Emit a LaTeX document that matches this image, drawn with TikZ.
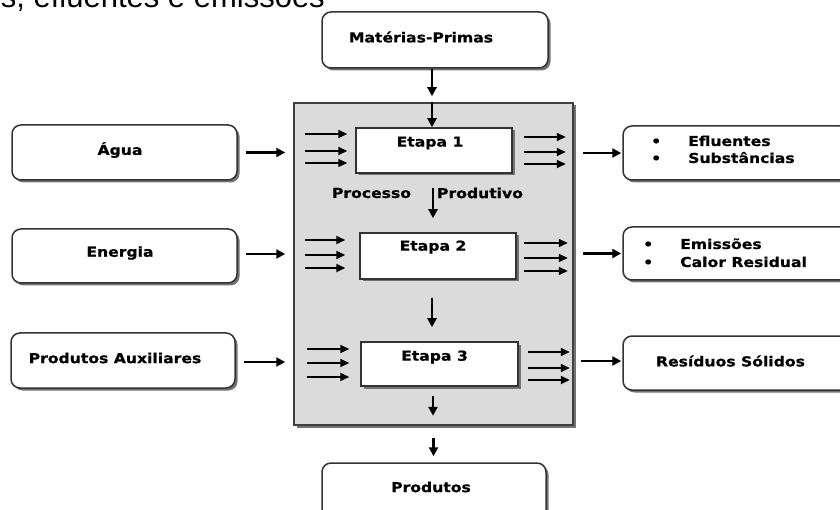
\documentclass[tikz,border=0pt]{standalone}
\usepackage{fontspec}
\setmainfont{DejaVu Sans}[FakeStretch=1.14,BoldFeatures={FakeBold=0.7}]
\newfontfamily\capfont{Liberation Sans}
\usetikzlibrary{shadows,arrows.meta}
\begin{document}
\begin{tikzpicture}[x=1pt,y=-1pt,
  shad/.style={drop shadow={shadow xshift=2.5pt,shadow yshift=-2.5pt,fill=black!55,opacity=1}},
  rbox/.style={draw=black!80,line width=1.5pt,rounded corners=9pt,fill=white,shad,inner sep=0pt},
  stepbox/.style={draw=black!80,line width=1.5pt,fill=white,shad,inner sep=0pt},
  procbox/.style={draw=black!75,line width=1.5pt,fill=black!14,shad,inner sep=0pt},
  txt/.style={font=\fontsize{13.7}{17}\selectfont\bfseries,inner sep=0pt},
  arr/.style={-{Triangle[length=9pt,width=9pt]},line width=2.2pt},
  arrs/.style={-{Triangle[length=9pt,width=8pt]},line width=2.1pt}]
\useasboundingbox (0,0) rectangle (840,510);
\clip (0,0) rectangle (840,510);
\fill[white] (0,0) rectangle (840,510);

% caption fragment cut at top
\node[font=\capfont\fontsize{31}{36}\selectfont,inner sep=0pt,anchor=base east] (cap) at (325,8) {s, efluentes e emissões};

% central process box
\node[procbox,minimum width=279pt,minimum height=322pt] (proc) at (433.5,264) {};

% top / bottom boxes
\node[rbox,minimum width=226pt,minimum height=56pt] (mp) at (435,40) {};
\node[txt] (mpT) at (421,37) {Matérias-Primas};
\node[rbox,minimum width=224pt,minimum height=56pt] (prod) at (434,491) {};
\node[txt] (prodT) at (431,487) {Produtos};

% left boxes
\node[rbox,minimum width=225pt,minimum height=55pt] (agua) at (124.5,152.5) {};
\node[txt] (aguaT) at (120,150) {Água};
\node[rbox,minimum width=225pt,minimum height=54pt] (energia) at (124.5,256) {};
\node[txt] (energiaT) at (120,253) {Energia};
\node[rbox,minimum width=224pt,minimum height=55pt] (aux) at (123,360.5) {};
\node[txt] (auxT) at (115,358) {Produtos Auxiliares};

% right boxes
\node[rbox,minimum width=226pt,minimum height=54pt] (eflu) at (736,153) {};
\node[txt,anchor=base west] (efluA) at (651,146) {\makebox[37pt][l]{•}Efluentes};
\node[txt,anchor=base west] (efluB) at (651,163) {\makebox[37pt][l]{•}Substâncias};
\node[rbox,minimum width=226pt,minimum height=53pt] (emis) at (736,253.5) {};
\node[txt,anchor=base west] (emisA) at (643,249) {\makebox[37pt][l]{•}Emissões};
\node[txt,anchor=base west] (emisB) at (643,267) {\makebox[37pt][l]{•}Calor Residual};
\node[rbox,minimum width=226pt,minimum height=54pt] (resid) at (736,363) {};
\node[txt] (residT) at (730.5,361) {Resíduos Sólidos};

% step boxes
\node[stepbox,minimum width=156pt,minimum height=45pt] (e1) at (434,150.5) {};
\node[txt] (e1T) at (430,143) {Etapa 1};
\node[stepbox,minimum width=156pt,minimum height=46pt] (e2) at (438,256) {};
\node[txt] (e2T) at (433,247) {Etapa 2};
\node[stepbox,minimum width=157pt,minimum height=44pt] (e3) at (439.5,364) {};
\node[txt] (e3T) at (434.5,357) {Etapa 3};

\node[txt] (pr1) at (371.5,193) {Processo};
\node[txt] (pr2) at (480,193) {Produtivo};

% vertical flow
\draw[arr,shorten >=6pt] ([xshift=-3pt]mp.south) -- ([xshift=-3pt]mp.south |- proc.north);
\draw[arr] ([xshift=-2pt]e1.north |- proc.north) -- ([xshift=-2pt]e1.north);
\draw[arr,shorten <=14pt,shorten >=14pt] ([xshift=-1pt]e1.south) -- ([xshift=-1pt]e1.south |- e2.north);
\draw[arr,shorten <=18pt,shorten >=14pt] ([xshift=-6pt]e2.south) -- ([xshift=-6pt]e2.south |- e3.north);
\draw[arr,shorten <=9pt,shorten >=10pt] ([xshift=-6.5pt]e3.south) -- ([xshift=-6.5pt]e3.south |- proc.south);
\draw[arr,shorten <=12pt,shorten >=6pt] (proc.south) -- (proc.south |- prod.north);

% inputs and outputs
\draw[arr,shorten <=8pt,shorten >=8pt] (agua.east) -- (agua.east -| proc.west);
\draw[arr,shorten <=8pt,shorten >=8pt] ([yshift=2pt]energia.east) -- ([yshift=2pt]energia.east -| proc.west);
\draw[arr,shorten <=8pt,shorten >=8pt] ([yshift=-1.5pt]aux.east) -- ([yshift=-1.5pt]aux.east -| proc.west);
\draw[arr,shorten <=9pt,shorten >=1pt] (proc.east |- eflu.west) -- (eflu.west);
\draw[arr,shorten <=9pt,shorten >=1pt] (proc.east |- emis.west) -- (emis.west);
\draw[arr,shorten <=7pt,shorten >=1pt] ([yshift=2pt]proc.east |- resid.west) -- ([yshift=2pt]resid.west);

% triple arrows
\foreach \dy/\w in {16.5/2.1pt,-0.5/2.1pt,-12.5/1.3pt}
  \draw[arrs,line width=\w] ([xshift=-50pt,yshift=\dy pt]e1.west) -- ([xshift=-8pt,yshift=\dy pt]e1.west);
\foreach \dy in {13.5,-1.5,-13.5}
  \draw[arrs] ([xshift=11pt,yshift=\dy pt]e1.east) -- ([xshift=53pt,yshift=\dy pt]e1.east);
\foreach \dy in {16,1,-12}
  \draw[arrs] ([xshift=-54pt,yshift=\dy pt]e2.west) -- ([xshift=-14pt,yshift=\dy pt]e2.west);
\foreach \dy in {13,-2,-15}
  \draw[arrs] ([xshift=7pt,yshift=\dy pt]e2.east) -- ([xshift=51pt,yshift=\dy pt]e2.east);
\foreach \dy in {15,1,-13}
  \draw[arrs] ([xshift=-53pt,yshift=\dy pt]e3.west) -- ([xshift=-11pt,yshift=\dy pt]e3.west);
\foreach \dy in {12,-4,-16}
  \draw[arrs] ([xshift=9pt,yshift=\dy pt]e3.east) -- ([xshift=51pt,yshift=\dy pt]e3.east);
\end{tikzpicture}
\end{document}
